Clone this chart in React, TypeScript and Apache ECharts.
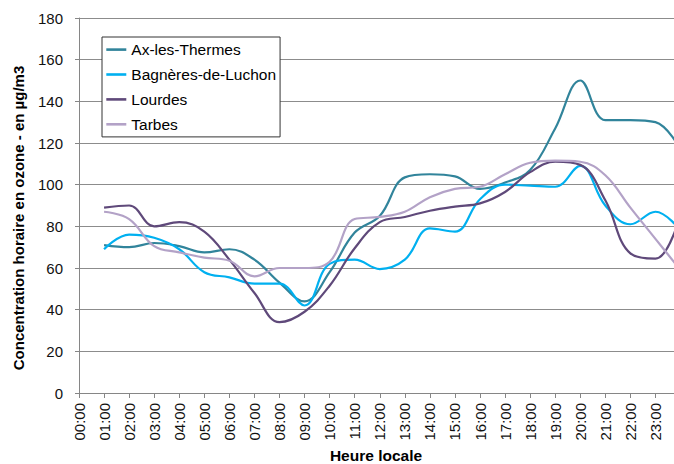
import React, { useEffect, useRef } from "react";
import * as echarts from "echarts";

const hourLabels = [
  "00:00", "01:00", "02:00", "03:00", "04:00", "05:00", "06:00", "07:00",
  "08:00", "09:00", "10:00", "11:00", "12:00", "13:00", "14:00", "15:00",
  "16:00", "17:00", "18:00", "19:00", "20:00", "21:00", "22:00", "23:00", "24:00",
];

const seriesNames = ["Ax-les-Thermes", "Bagnères-de-Luchon", "Lourdes", "Tarbes"];
const seriesColors = ["#31849B", "#00B0F0", "#5F497A", "#B3A2C7"];

const axValues = [null, 71, 70, 72, 70.5, 67.5, 69, 64, 53, 44, 58, 77, 85, 103.5, 105, 104, 98, 101, 107, 127, 150, 131, 131, 130, 117];
const bagneresValues = [null, 69, 76, 74.5, 69, 58, 55.5, 52.5, 52.5, 42, 62, 64, 59.5, 64, 79, 77.5, 93, 100, 99.5, 99, 109, 90, 81, 87, 78];
const lourdesValues = [null, 89, 90, 80, 82, 77.5, 64, 48, 34, 39, 51.5, 69.5, 82, 84.5, 87.5, 89.5, 91, 96.5, 106, 111, 109.5, 92.5, 67, 64.5, 86];
const tarbesValues = [null, 87, 83.5, 70.5, 67.5, 65, 63.5, 56, 60, 60, 63, 83.5, 84.5, 87, 94, 98, 99, 105, 110.5, 111.5, 111, 104.5, 89, 74, 59];

const yTitle = "Concentration horaire en ozone - en µg/m3";
const xTitle = "Heure locale";

const FONT = '"Liberation Sans", Arial, sans-serif';

export default function App() {
  const ref = useRef<HTMLDivElement>(null);

  useEffect(() => {
    if (!ref.current) return;
    const chart = echarts.init(ref.current, undefined, { renderer: "svg" });
    const allValues = [axValues, bagneresValues, lourdesValues, tarbesValues];
    chart.setOption({
      animation: false,
      backgroundColor: "#ffffff",
      textStyle: { fontFamily: FONT },
      grid: {
        left: 79,
        top: 18,
        bottom: 71,
        right: -6.5,
        containLabel: false,
        outerBoundsMode: "none",
      },
      legend: {
        orient: "vertical",
        left: 102,
        top: 37,
        padding: [4.6, 4, 4.6, 3],
        itemWidth: 20,
        itemHeight: 14,
        itemGap: 8.9,
        borderColor: "#333333",
        borderWidth: 1,
        backgroundColor: "#ffffff",
        itemStyle: { opacity: 0 },
        lineStyle: { width: 2.6 },
        textStyle: { fontFamily: FONT, fontSize: 15.5, color: "#000000", lineHeight: 14 },
        data: seriesNames,
      },
      xAxis: {
        type: "category",
        boundaryGap: false,
        data: hourLabels,
        axisLine: { show: true, lineStyle: { color: "#868686", width: 1 } },
        axisTick: { show: true, length: 5, interval: 0, lineStyle: { color: "#868686" } },
        axisLabel: {
          interval: 0,
          rotate: 90,
          margin: 10,
          fontFamily: FONT,
          fontSize: 15,
          color: "#111111",
          formatter: (v: string, i: number) => (i === hourLabels.length - 1 ? "" : v),
        },
        splitLine: { show: false },
      },
      yAxis: {
        type: "value",
        min: 0,
        max: 180,
        interval: 20,
        axisLine: { show: true, lineStyle: { color: "#868686", width: 1 } },
        axisTick: { show: true, length: 4, lineStyle: { color: "#868686" } },
        axisLabel: { margin: 16, fontFamily: FONT, fontSize: 15, color: "#111111" },
        splitLine: { show: true, lineStyle: { color: "#8c8c8c", width: 1 } },
      },
      graphic: [
        {
          type: "text",
          x: 18,
          y: 218,
          rotation: Math.PI / 2,
          style: {
            text: yTitle,
            fontFamily: FONT,
            fontWeight: "bold",
            fontSize: 15,
            fill: "#000000",
            align: "center",
            verticalAlign: "middle",
          },
        },
        {
          type: "text",
          x: 376,
          y: 455,
          style: {
            text: xTitle,
            fontFamily: FONT,
            fontWeight: "bold",
            fontSize: 15.5,
            fill: "#000000",
            align: "center",
            verticalAlign: "middle",
          },
        },
      ],
      series: seriesNames.map((name, i) => ({
        name,
        type: "line",
        data: allValues[i],
        smooth: 0.4,
        symbol: "none",
        connectNulls: false,
        color: seriesColors[i],
        lineStyle: { color: seriesColors[i], width: 2.2 },
      })),
    });
    return () => chart.dispose();
  }, []);

  return (
    <div
      ref={ref}
      style={{ position: "absolute", left: 0, top: 0, width: 674, height: 464 }}
    />
  );
}
